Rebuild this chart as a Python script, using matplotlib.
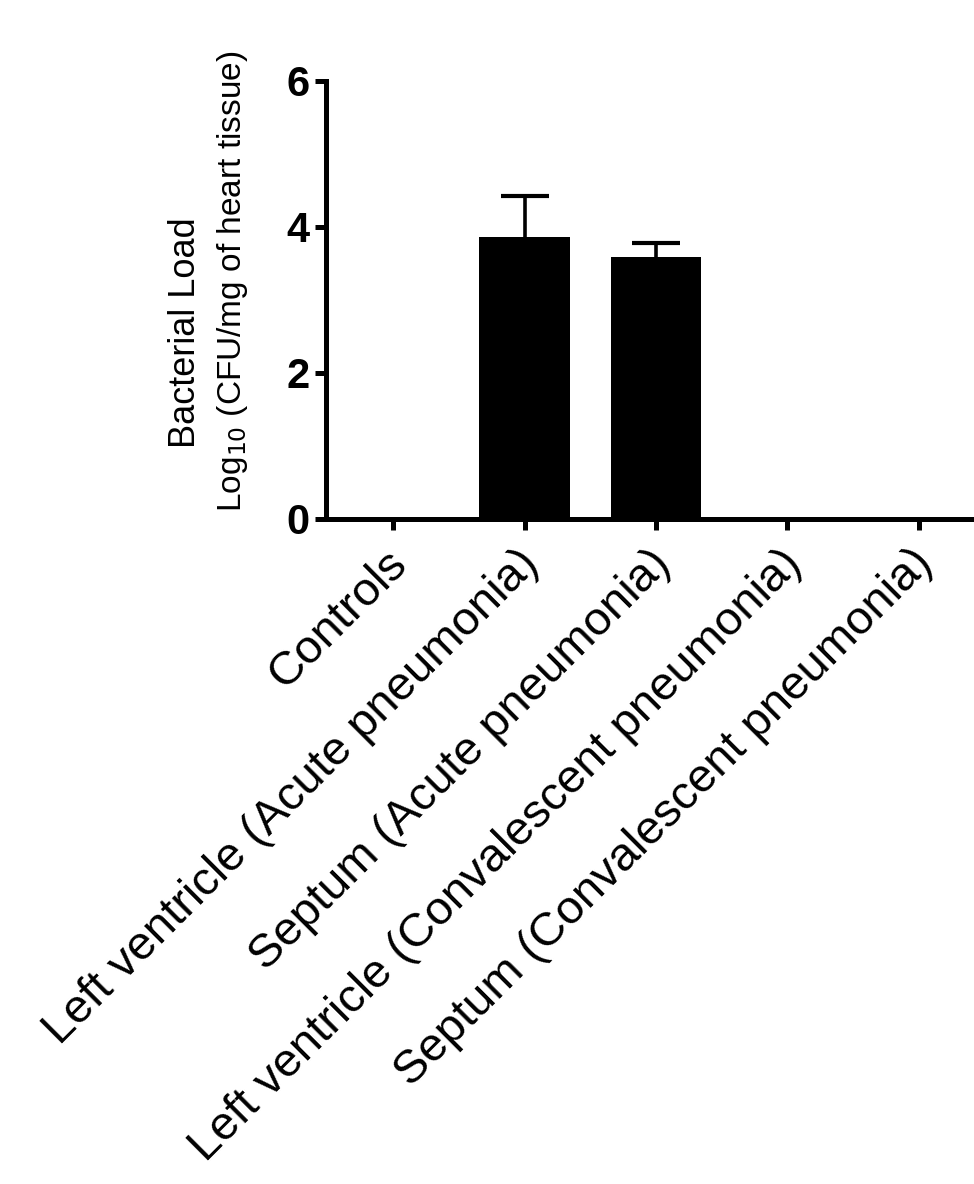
import matplotlib
matplotlib.use("Agg")
import matplotlib.pyplot as plt
from matplotlib.transforms import ScaledTranslation

groups = ["Controls",
          "Left ventricle (Acute pneumonia)",
          "Septum (Acute pneumonia)",
          "Left ventricle (Convalescent pneumonia)",
          "Septum (Convalescent pneumonia)"]
load = [0, 3.86, 3.59, 0, 0]
err = [0, 0.56, 0.19, 0, 0]
yticks = [0, 2, 4, 6]

plt.rcParams['font.family'] = ['Liberation Sans', 'DejaVu Sans']

fig = plt.figure(figsize=(9.74, 11.84), dpi=100)
ax = fig.add_axes([0.335, 0.5617, 0.665, 0.3699])

xs = list(range(len(groups)))
ax.bar(xs, load, width=0.69, color="black", zorder=2)
# lower half of the error bar hides behind the bar
ax.errorbar(xs[1:3], load[1:3], yerr=err[1:3], fmt="none",
            ecolor="black", elinewidth=2.6, capsize=17, capthick=3, zorder=1)

ax.set_xlim(-0.51, 4.42)
ax.set_ylim(0, 6)
ax.set_yticks(yticks)
ax.set_yticklabels([str(t) for t in yticks],
                   fontdict=dict(family=['Liberation Sans Narrow', 'Liberation Sans'],
                                 weight='bold', size=30))
ax.set_xticks(xs)
ax.set_xticklabels([])

# rotated category labels, nudged down-left a little like the original
lab_tr = ax.get_xaxis_transform() + ScaledTranslation(-6 / 72, -16 / 72, fig.dpi_scale_trans)
for x, g in zip(xs, groups):
    ax.text(x, 0, g, transform=lab_tr, rotation=45, ha='right', va='top',
            rotation_mode='anchor', fontsize=34, clip_on=False)

for s in ['top', 'right']:
    ax.spines[s].set_visible(False)
for s in ['left', 'bottom']:
    ax.spines[s].set_linewidth(3.6)
ax.tick_params(axis='both', width=3.6, length=8, pad=4)

fig.text(0.19, 0.719, "Bacterial Load", rotation=90, ha='center', va='center', fontsize=26)
fig.text(0.239, 0.762, "Log$_{10}$ (CFU/mg of heart tissue)", rotation=90,
         ha='center', va='center', fontsize=24)

fig.savefig("out.png", dpi=100)
